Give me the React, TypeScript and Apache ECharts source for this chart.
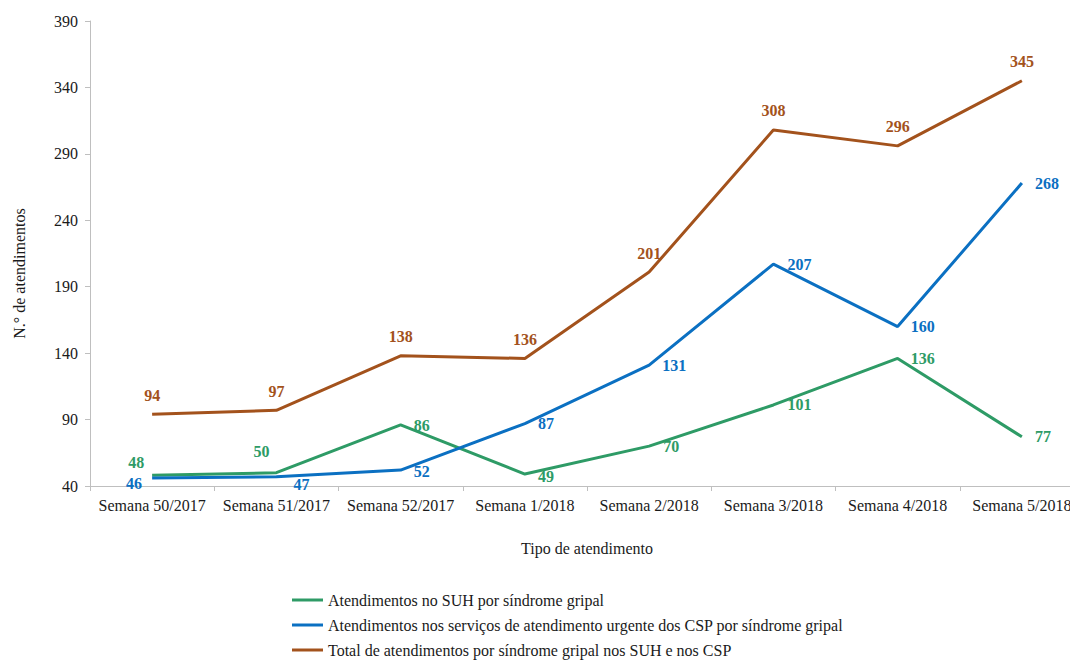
import React, { useEffect, useRef } from "react";
import * as echarts from "echarts";

const categories = [
  "Semana 50/2017",
  "Semana 51/2017",
  "Semana 52/2017",
  "Semana 1/2018",
  "Semana 2/2018",
  "Semana 3/2018",
  "Semana 4/2018",
  "Semana 5/2018",
];
const suhValues = [48, 50, 86, 49, 70, 101, 136, 77];
const cspValues = [46, 47, 52, 87, 131, 207, 160, 268];
const totalValues = [94, 97, 138, 136, 201, 308, 296, 345];
const yTicks = [40, 90, 140, 190, 240, 290, 340, 390];

const seriesNames = [
  "Atendimentos no SUH por síndrome gripal",
  "Atendimentos nos serviços de atendimento urgente dos CSP por síndrome gripal",
  "Total de atendimentos por síndrome gripal nos SUH e nos CSP",
];

const GREEN = "#2E9B66";
const BLUE = "#0B70C2";
const BROWN = "#A3521C";
const FONT = "Liberation Serif";

// label placement per point (style only)
const suhLabelPos = [
  { position: "top", offset: [-16, 0] },
  { position: "top", offset: [-15, -8] },
  { position: "right", offset: [8, 1] },
  { position: "right", offset: [8, 2] },
  { position: "right", offset: [9, 0] },
  { position: "right", offset: [9, 0] },
  { position: "right", offset: [8, 0] },
  { position: "right", offset: [8, 0] },
];
const cspLabelPos = [
  { position: "left", offset: [-5, 5] },
  { position: "right", offset: [12, 8] },
  { position: "right", offset: [8, 1] },
  { position: "right", offset: [8, 0] },
  { position: "right", offset: [8, 0] },
  { position: "right", offset: [9, 0] },
  { position: "right", offset: [8, 0] },
  { position: "right", offset: [8, 0] },
];
const totalLabelPos = categories.map(() => ({ position: "top", offset: [0, -6] }));

function buildData(values: number[], pos: any[], color: string) {
  return values.map((v, i) => ({
    value: v,
    label: {
      show: true,
      position: pos[i].position,
      offset: pos[i].offset,
      color,
      fontFamily: FONT,
      fontWeight: "bold",
      fontSize: 16,
    },
  }));
}

export default function App() {
  const ref = useRef<HTMLDivElement>(null);
  useEffect(() => {
    if (!ref.current) return;
    const chart = echarts.init(ref.current, null, { renderer: "svg" });
    const lineSeries = (name: string, values: number[], pos: any[], color: string, z: number) => ({
      name,
      type: "line",
      data: buildData(values, pos, color),
      showSymbol: true,
      symbol: "circle",
      symbolSize: 0.1,
      lineStyle: { color, width: 3 },
      itemStyle: { color },
      emphasis: { disabled: true },
      z,
    });
    chart.setOption({
      animation: false,
      backgroundColor: "#ffffff",
      textStyle: { fontFamily: FONT },
      grid: {
        left: 90,
        top: 21,
        height: 465,
        width: 994,
        containLabel: false,
        outerBoundsMode: "none",
      },
      legend: {
        orient: "vertical",
        left: 292,
        top: 591,
        padding: 0,
        itemGap: 7,
        itemWidth: 31,
        itemHeight: 3,
        icon: "rect",
        textStyle: { fontFamily: FONT, fontSize: 16, lineHeight: 18, color: "#1a1a1a" },
        data: seriesNames,
      },
      xAxis: {
        type: "category",
        data: categories,
        boundaryGap: true,
        name: "Tipo de atendimento",
        nameLocation: "middle",
        nameGap: 54,
        nameTextStyle: { fontFamily: FONT, fontSize: 16, color: "#1a1a1a" },
        axisLine: { lineStyle: { color: "#bfbfbf", width: 1 } },
        axisTick: { show: true, alignWithLabel: false, length: 5, lineStyle: { color: "#bfbfbf" } },
        axisLabel: { fontFamily: FONT, fontSize: 16, color: "#1a1a1a", margin: 11, interval: 0 },
        splitLine: { show: false },
      },
      yAxis: {
        type: "value",
        min: 40,
        max: 390,
        name: "N.° de atendimentos",
        nameLocation: "middle",
        nameGap: 63,
        nameRotate: 90,
        nameTextStyle: { fontFamily: FONT, fontSize: 16, color: "#1a1a1a", padding: [0, 40, 0, 0] },
        axisLine: { show: true, lineStyle: { color: "#bfbfbf", width: 1 } },
        axisTick: { show: true, length: 5, lineStyle: { color: "#bfbfbf" }, customValues: yTicks },
        axisLabel: { fontFamily: FONT, fontSize: 16, color: "#1a1a1a", margin: 12, customValues: yTicks },
        splitLine: { show: false },
      },
      series: [
        lineSeries(seriesNames[0], suhValues, suhLabelPos, GREEN, 3),
        lineSeries(seriesNames[1], cspValues, cspLabelPos, BLUE, 4),
        lineSeries(seriesNames[2], totalValues, totalLabelPos, BROWN, 2),
      ],
    });
    return () => chart.dispose();
  }, []);
  return (
    <div
      ref={ref}
      style={{ width: 1070, height: 660, position: "absolute", left: 0, top: 0, background: "#fff" }}
    />
  );
}
